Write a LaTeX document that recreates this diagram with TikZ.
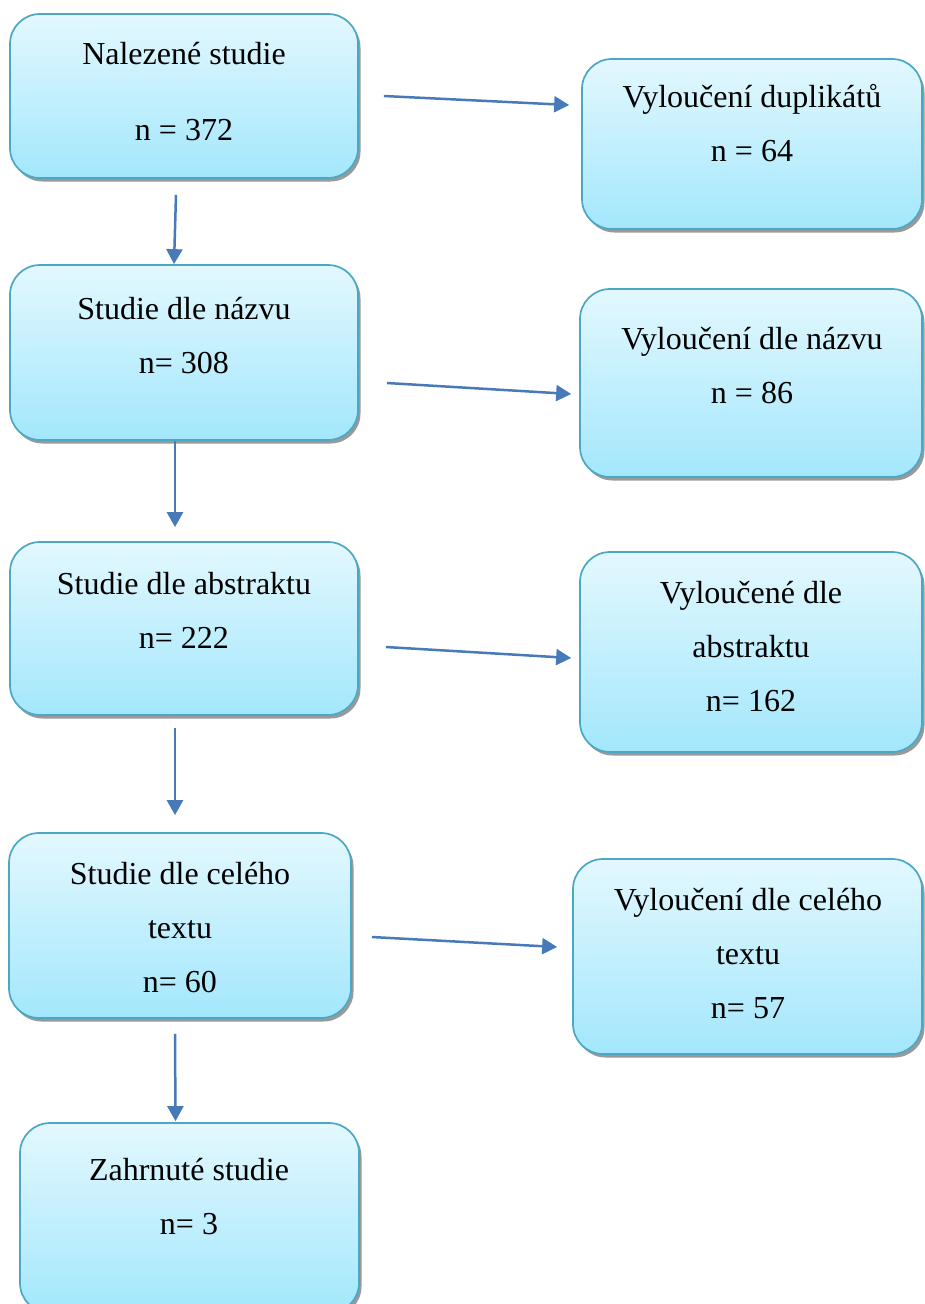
\documentclass[tikz,border=0pt]{standalone}
\usepackage{fontspec}
\setmainfont{Liberation Serif}
\usetikzlibrary{arrows.meta,shadows}
\definecolor{boxtop}{RGB}{227,248,254}
\definecolor{boxbot}{RGB}{163,231,252}
\definecolor{boxline}{RGB}{75,168,196}
\definecolor{arrowc}{RGB}{72,122,186}
\begin{document}
\begin{tikzpicture}[x=1pt,y=-1pt,
  flowbox/.style={rectangle, rounded corners=30pt, draw=boxline, line width=1.7pt,
    top color=boxtop, bottom color=boxbot, inner sep=0pt,
    drop shadow={shadow xshift=2.5pt, shadow yshift=-3.5pt, fill=black!50, opacity=0.8}},
  boxtext/.style={align=center, inner sep=0pt, font=\fontsize{32}{54}\selectfont},
  flowarrow/.style={draw=arrowc, line width=2.5pt, -{Triangle[length=15pt,width=16pt]}, arrowc}]
\useasboundingbox (0,0) rectangle (924,1304);
% boxes
\node[flowbox, minimum width=348pt, minimum height=164pt] (b1) at (184,96) {};
\node[flowbox, minimum width=340pt, minimum height=170pt] (b2) at (752,144) {};
\node[flowbox, minimum width=348pt, minimum height=175pt] (b3) at (184,352.5) {};
\node[flowbox, minimum width=342pt, minimum height=188pt] (b4) at (751,383) {};
\node[flowbox, minimum width=348pt, minimum height=173pt] (b5) at (184,628.5) {};
\node[flowbox, minimum width=342pt, minimum height=200pt] (b6) at (751,652) {};
\node[flowbox, minimum width=342pt, minimum height=185pt] (b7) at (180,925.5) {};
\node[flowbox, minimum width=349pt, minimum height=195pt] (b8) at (747.5,956.5) {};
\node[flowbox, minimum width=339pt, minimum height=190pt] (b9) at (189.5,1218) {};
% texts
\node[boxtext, font=\fontsize{32}{76}\selectfont] (t1) at (184,92) {Nalezené studie\\n = 372};
\node[boxtext] (t2) at (752,123) {Vyloučení duplikátů\\n = 64};
\node[boxtext] (t3) at (184,336) {Studie dle názvu\\n= 308};
\node[boxtext] (t4) at (752,366) {Vyloučení dle názvu\\n = 86};
\node[boxtext] (t5) at (184,610) {Studie dle abstraktu\\n= 222};
\node[boxtext] (t6) at (751,647) {Vyloučené dle\\abstraktu\\n= 162};
\node[boxtext] (t7) at (180,928) {Studie dle celého\\textu\\n= 60};
\node[boxtext] (t8) at (748,954) {Vyloučení dle celého\\textu\\n= 57};
\node[boxtext] (t9) at (189,1197) {Zahrnuté studie\\n= 3};
% connectors
\draw[flowarrow] ([shift={(25,0)}]b1.east) -- ([shift={(-12,-39)}]b2.west);
\draw[flowarrow] ([shift={(-8,16)}]b1.south) -- ([shift={(-10,0)}]b3.north);
\draw[flowarrow] ([shift={(28,30.5)}]b3.east) -- ([shift={(-8,11)}]b4.west);
\draw[flowarrow] ([shift={(-9,0)}]b3.south) -- ([shift={(-9,-14)}]b5.north);
\draw[flowarrow] ([shift={(27,18.5)}]b5.east) -- ([shift={(-8,6)}]b6.west);
\draw[flowarrow] ([shift={(-9,12.5)}]b5.south) -- ([shift={(-5,-17)}]b7.north);
\draw[flowarrow] ([shift={(20,11.5)}]b7.east) -- ([shift={(-15,-9.5)}]b8.west);
\draw[flowarrow] ([shift={(-5,15)}]b7.south) -- ([shift={(-14,-1)}]b9.north);
\end{tikzpicture}
\end{document}
